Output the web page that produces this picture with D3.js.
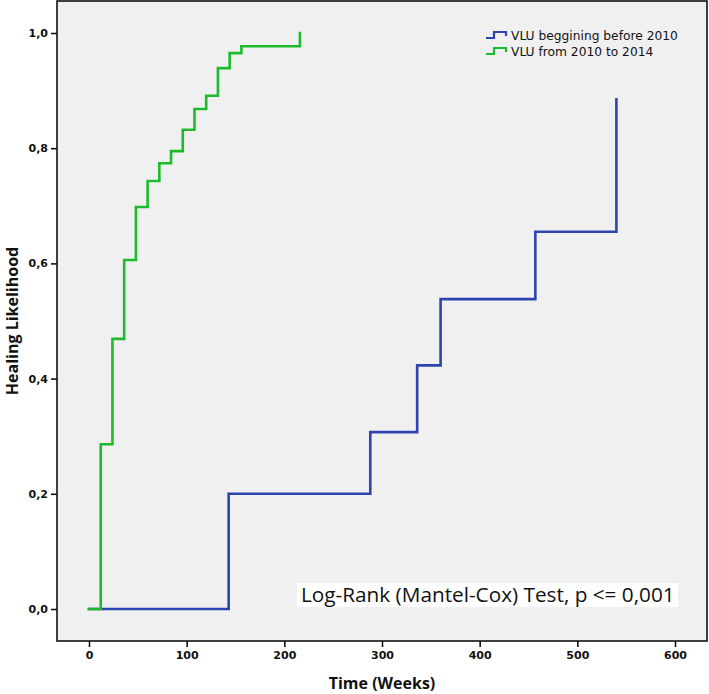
<!DOCTYPE html>
<html>
<head>
<meta charset="utf-8">
<script src="https://cdn.jsdelivr.net/npm/d3@7"></script>
<style>
  html, body { margin: 0; padding: 0; background: #ffffff; }
  svg { display: block; }
</style>
</head>
<body>
<svg id="chart" width="709" height="694"></svg>
<script>
// ---- data ----
const seriesNames = ["VLU beggining before 2010", "VLU from 2010 to 2014"];
const blueTimes  = [0, 143, 288, 336, 360, 457, 540];
const blueValues = [0, 0.2, 0.307, 0.423, 0.538, 0.655, 0.885];
const greenTimes  = [0, 12, 24, 36, 48, 60, 72, 84, 96, 108, 120, 132, 144, 156, 216];
const greenValues = [0, 0.286, 0.469, 0.606, 0.698, 0.743, 0.774, 0.795, 0.832, 0.868, 0.891, 0.939, 0.965, 0.977, 1.0];
const xTicks = [0, 100, 200, 300, 400, 500, 600];
const yTicks = [0, 0.2, 0.4, 0.6, 0.8, 1.0];
const xTitle = "Time (Weeks)";
const yTitle = "Healing Likelihood";
const note = "Log-Rank (Mantel-Cox) Test, p <= 0,001";

// ---- layout ----
const svg = d3.select("#chart");
const frame = { left: 57, right: 707, top: 1, bottom: 641 };
const x = d3.scaleLinear().domain([0, 600]).range([89, 675]);
const y = d3.scaleLinear().domain([0, 1]).range([609, 33]);
const colors = ["#2c44b0", "#1dbb2c"];

svg.append("rect")
  .attr("x", frame.left).attr("y", frame.top)
  .attr("width", frame.right - frame.left).attr("height", frame.bottom - frame.top)
  .attr("fill", "#f0f0f0");

// axes
const fmt = d => d3.format(".1f")(d).replace(".", ",");
const xAxis = svg.append("g")
  .attr("transform", `translate(0,${frame.bottom})`)
  .call(d3.axisBottom(x).tickValues(xTicks).tickSize(6).tickPadding(4).tickFormat(d => d));
const yAxis = svg.append("g")
  .attr("transform", `translate(${frame.left},0)`)
  .call(d3.axisLeft(y).tickValues(yTicks).tickSize(6).tickPadding(3).tickFormat(fmt));
[xAxis, yAxis].forEach(g => {
  g.select(".domain").remove();
  g.selectAll(".tick line").attr("stroke", "#000").attr("stroke-width", 1.5);
  g.selectAll(".tick text")
    .attr("fill", "#111")
    .style("font-family", "'DejaVu Sans', Verdana, sans-serif")
    .style("font-weight", "bold")
    .style("font-size", "11px");
});

// frame border
svg.append("rect")
  .attr("x", frame.left).attr("y", frame.top)
  .attr("width", frame.right - frame.left).attr("height", frame.bottom - frame.top)
  .attr("fill", "none").attr("stroke", "#111").attr("stroke-width", 1.6);

// step lines
const line = d3.line().x(d => x(d[0])).y(d => y(d[1])).curve(d3.curveStepAfter);
const blueData = blueTimes.map((t, i) => [t, blueValues[i]]);
const greenData = greenTimes.map((t, i) => [t, greenValues[i]]);
[blueData, greenData].forEach((data, i) => {
  svg.append("path")
    .datum(data)
    .attr("d", line)
    .attr("fill", "none")
    .attr("stroke", colors[i])
    .attr("stroke-width", 2.6)
    .attr("stroke-linejoin", "miter")
    .attr("stroke-linecap", "square");
});

// legend
const legend = svg.append("g").attr("transform", "translate(486,0)");
const legendTexts = [];
seriesNames.forEach((name, i) => {
  const cy = 35 + i * 16;
  legend.append("path")
    .attr("d", `M0,${cy + 3} H8 V${cy - 3} H20 V${cy + 1}`)
    .attr("fill", "none").attr("stroke", colors[i]).attr("stroke-width", 2.2);
  legendTexts.push(legend.append("text")
    .attr("x", 25).attr("y", cy + 4.5)
    .style("font-family", "'DejaVu Sans', Verdana, sans-serif")
    .style("font-size", "12px")
    .attr("fill", "#111")
    .text(name));
});
const lw = legendTexts[0].node().getComputedTextLength();
const lfs = 12 * 167 / lw;
legendTexts.forEach(t => t.style("font-size", lfs + "px"));

// annotation
const noteG = svg.append("g");
const noteRect = noteG.append("rect").attr("fill", "#ffffff");
const noteText = noteG.append("text")
  .attr("x", 301).attr("y", 601.5)
  .style("font-family", "'Open Sans', 'DejaVu Sans', sans-serif")
  .style("font-size", "17px")
  .attr("fill", "#111")
  .text(note);
const targetW = 374;
const w = noteText.node().getComputedTextLength();
noteText.style("font-size", (17 * targetW / w) + "px");
noteRect.attr("x", 297).attr("y", 583).attr("width", 381).attr("height", 24);

// axis titles
svg.append("text")
  .attr("x", x(300)).attr("y", 689)
  .attr("text-anchor", "middle")
  .style("font-family", "'Open Sans', 'DejaVu Sans', sans-serif")
  .style("font-weight", "bold")
  .style("font-size", "16px")
  .attr("fill", "#111")
  .text(xTitle);
svg.append("text")
  .attr("transform", `translate(18,${(frame.top + frame.bottom) / 2}) rotate(-90)`)
  .attr("text-anchor", "middle")
  .style("font-family", "'Open Sans', 'DejaVu Sans', sans-serif")
  .style("font-weight", "bold")
  .style("font-size", "16px")
  .attr("fill", "#111")
  .text(yTitle);
</script>
</body>
</html>
